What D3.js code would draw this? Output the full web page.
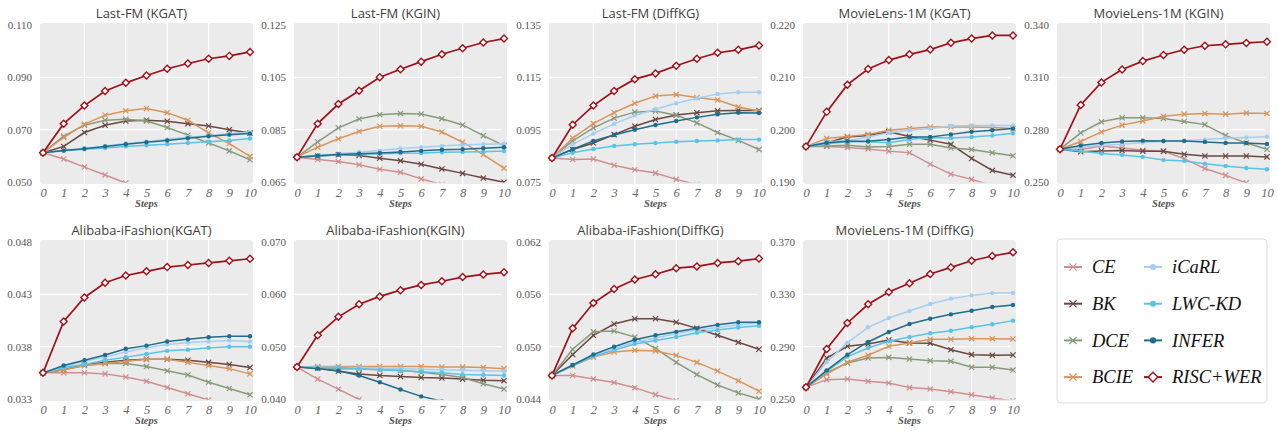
<!DOCTYPE html>
<html>
<head>
<meta charset="utf-8">
<script src="https://cdn.jsdelivr.net/npm/d3@7"></script>
<style>
  body { margin: 0; background: #fff; }
  svg { display: block; }
  .serif { font-family: "Liberation Serif", "DejaVu Serif", serif; }
</style>
</head>
<body>
<svg width="1278" height="431"></svg>
<script>
// steps on the x axis
var steps = [0, 1, 2, 3, 4, 5, 6, 7, 8, 9, 10];
var methods = ["CE", "BK", "DCE", "BCIE", "iCaRL", "LWC-KD", "INFER", "RISC+WER"];

var titles = ["Last-FM (KGAT)", "Last-FM (KGIN)", "Last-FM (DiffKG)", "MovieLens-1M (KGAT)", "MovieLens-1M (KGIN)",
              "Alibaba-iFashion(KGAT)", "Alibaba-iFashion(KGIN)", "Alibaba-iFashion(DiffKG)", "MovieLens-1M (DiffKG)"];

var yTicks = [
  [0.050, 0.070, 0.090, 0.110],
  [0.065, 0.085, 0.105, 0.125],
  [0.075, 0.095, 0.115, 0.135],
  [0.190, 0.200, 0.210, 0.220],
  [0.250, 0.280, 0.310, 0.340],
  [0.033, 0.038, 0.043, 0.048],
  [0.040, 0.050, 0.060, 0.070],
  [0.044, 0.050, 0.056, 0.062],
  [0.250, 0.290, 0.330, 0.370]
];

// one row per method, same order as `methods`
var lastfmKGAT = [
  [0.0612, 0.0588, 0.0557, 0.0527, 0.0496, 0.0466, 0.0437, 0.0410, 0.0385, 0.0362, 0.0340],
  [0.0612, 0.0636, 0.0689, 0.0717, 0.0733, 0.0736, 0.0732, 0.0723, 0.0714, 0.0700, 0.0687],
  [0.0612, 0.0675, 0.0717, 0.0736, 0.0740, 0.0733, 0.0708, 0.0679, 0.0649, 0.0619, 0.0585],
  [0.0612, 0.0670, 0.0721, 0.0755, 0.0772, 0.0781, 0.0765, 0.0736, 0.0688, 0.0647, 0.0598],
  [0.0612, 0.0621, 0.0629, 0.0638, 0.0647, 0.0654, 0.0663, 0.0671, 0.0677, 0.0685, 0.0690],
  [0.0612, 0.0619, 0.0625, 0.0630, 0.0636, 0.0640, 0.0644, 0.0649, 0.0654, 0.0659, 0.0666],
  [0.0612, 0.0620, 0.0627, 0.0636, 0.0644, 0.0652, 0.0659, 0.0667, 0.0675, 0.0681, 0.0685],
  [0.0612, 0.0723, 0.0792, 0.0848, 0.0879, 0.0907, 0.0933, 0.0953, 0.0971, 0.0982, 0.0997]
];
var lastfmKGIN = [
  [0.0745, 0.0736, 0.0728, 0.0716, 0.0699, 0.0687, 0.0662, 0.0640, 0.0618, 0.0596, 0.0575],
  [0.0745, 0.0749, 0.0754, 0.0751, 0.0741, 0.0731, 0.0718, 0.0700, 0.0683, 0.0665, 0.0649],
  [0.0745, 0.0803, 0.0857, 0.0891, 0.0907, 0.0912, 0.0910, 0.0892, 0.0868, 0.0827, 0.0789],
  [0.0745, 0.0783, 0.0815, 0.0843, 0.0863, 0.0865, 0.0863, 0.0841, 0.0802, 0.0755, 0.0703],
  [0.0745, 0.0751, 0.0758, 0.0764, 0.0770, 0.0778, 0.0783, 0.0788, 0.0792, 0.0794, 0.0796],
  [0.0745, 0.0749, 0.0753, 0.0755, 0.0758, 0.0760, 0.0761, 0.0764, 0.0765, 0.0766, 0.0768],
  [0.0745, 0.0750, 0.0755, 0.0758, 0.0761, 0.0765, 0.0769, 0.0773, 0.0775, 0.0779, 0.0783],
  [0.0745, 0.0873, 0.0948, 0.0999, 0.1050, 0.1081, 0.1110, 0.1138, 0.1161, 0.1183, 0.1198]
];
var lastfmDiffKG = [
  [0.0842, 0.0836, 0.0838, 0.0814, 0.0797, 0.0784, 0.0760, 0.0740, 0.0722, 0.0705, 0.0690],
  [0.0842, 0.0874, 0.0899, 0.0931, 0.0963, 0.0989, 0.1006, 0.1015, 0.1022, 0.1023, 0.1023],
  [0.0842, 0.0907, 0.0957, 0.0994, 0.1017, 0.1021, 0.1005, 0.0976, 0.0939, 0.0909, 0.0874],
  [0.0842, 0.0918, 0.0973, 0.1015, 0.1051, 0.1079, 0.1084, 0.1073, 0.1063, 0.1037, 0.1021],
  [0.0842, 0.0894, 0.0935, 0.0972, 0.1004, 0.1028, 0.1051, 0.1070, 0.1086, 0.1093, 0.1093],
  [0.0842, 0.0862, 0.0876, 0.0888, 0.0894, 0.0899, 0.0904, 0.0907, 0.0909, 0.0912, 0.0912],
  [0.0842, 0.0875, 0.0907, 0.0930, 0.0950, 0.0968, 0.0983, 0.0997, 0.1009, 0.1015, 0.1014],
  [0.0842, 0.0969, 0.1042, 0.1098, 0.1143, 0.1165, 0.1194, 0.1221, 0.1244, 0.1255, 0.1272]
];
var movielensKGAT = [
  [0.1968, 0.1968, 0.1966, 0.1963, 0.1959, 0.1956, 0.1934, 0.1915, 0.1905, 0.1893, 0.1880],
  [0.1968, 0.1975, 0.1986, 0.1989, 0.1996, 0.1987, 0.1980, 0.1972, 0.1945, 0.1922, 0.1913],
  [0.1968, 0.1969, 0.1970, 0.1967, 0.1968, 0.1972, 0.1972, 0.1965, 0.1962, 0.1956, 0.1950],
  [0.1968, 0.1983, 0.1987, 0.1991, 0.1999, 0.2002, 0.2005, 0.2005, 0.2005, 0.2004, 0.2002],
  [0.1968, 0.1977, 0.1979, 0.1986, 0.1994, 0.1999, 0.2002, 0.2007, 0.2008, 0.2008, 0.2008],
  [0.1968, 0.1973, 0.1977, 0.1977, 0.1975, 0.1981, 0.1985, 0.1984, 0.1986, 0.1989, 0.1993],
  [0.1968, 0.1975, 0.1978, 0.1978, 0.1981, 0.1986, 0.1986, 0.1991, 0.1996, 0.1999, 0.2002],
  [0.1968, 0.2034, 0.2086, 0.2116, 0.2133, 0.2144, 0.2153, 0.2166, 0.2174, 0.2180, 0.2180]
];
var movielensKGIN = [
  [0.2688, 0.2686, 0.2707, 0.2695, 0.2682, 0.2676, 0.2634, 0.2577, 0.2538, 0.2495, 0.2460],
  [0.2688, 0.2673, 0.2678, 0.2680, 0.2676, 0.2676, 0.2659, 0.2649, 0.2649, 0.2649, 0.2644],
  [0.2688, 0.2782, 0.2845, 0.2868, 0.2868, 0.2864, 0.2847, 0.2829, 0.2766, 0.2724, 0.2688],
  [0.2688, 0.2732, 0.2787, 0.2826, 0.2850, 0.2877, 0.2889, 0.2893, 0.2889, 0.2896, 0.2893],
  [0.2688, 0.2701, 0.2711, 0.2716, 0.2726, 0.2734, 0.2737, 0.2743, 0.2751, 0.2755, 0.2760],
  [0.2688, 0.2678, 0.2663, 0.2655, 0.2644, 0.2626, 0.2621, 0.2605, 0.2592, 0.2580, 0.2573],
  [0.2688, 0.2709, 0.2724, 0.2732, 0.2737, 0.2735, 0.2735, 0.2730, 0.2724, 0.2724, 0.2718],
  [0.2688, 0.2942, 0.3071, 0.3145, 0.3193, 0.3228, 0.3258, 0.3281, 0.3289, 0.3297, 0.3304]
];
var alibabaKGAT = [
  [0.0355, 0.0355, 0.0355, 0.0354, 0.0351, 0.0347, 0.0341, 0.0335, 0.0329, 0.0323, 0.0317],
  [0.0355, 0.0358, 0.0363, 0.0365, 0.0367, 0.0368, 0.0368, 0.0367, 0.0365, 0.0363, 0.0360],
  [0.0355, 0.0358, 0.0362, 0.0364, 0.0364, 0.0361, 0.0357, 0.0353, 0.0346, 0.0340, 0.0334],
  [0.0355, 0.0358, 0.0362, 0.0364, 0.0366, 0.0368, 0.0368, 0.0365, 0.0362, 0.0359, 0.0354],
  [0.0355, 0.0361, 0.0366, 0.0370, 0.0375, 0.0379, 0.0382, 0.0384, 0.0385, 0.0386, 0.0385],
  [0.0355, 0.0360, 0.0363, 0.0367, 0.0370, 0.0373, 0.0376, 0.0377, 0.0379, 0.0380, 0.0380],
  [0.0355, 0.0362, 0.0367, 0.0372, 0.0378, 0.0381, 0.0385, 0.0387, 0.0389, 0.0390, 0.0390],
  [0.0355, 0.0404, 0.0427, 0.0441, 0.0448, 0.0452, 0.0456, 0.0458, 0.0460, 0.0462, 0.0464]
];
var alibabaKGIN = [
  [0.0461, 0.0438, 0.0419, 0.0399, 0.0380, 0.0362, 0.0345, 0.0330, 0.0316, 0.0303, 0.0291],
  [0.0461, 0.0459, 0.0453, 0.0448, 0.0445, 0.0443, 0.0441, 0.0440, 0.0438, 0.0436, 0.0435],
  [0.0461, 0.0460, 0.0458, 0.0458, 0.0456, 0.0455, 0.0451, 0.0447, 0.0441, 0.0429, 0.0419],
  [0.0461, 0.0462, 0.0462, 0.0462, 0.0462, 0.0462, 0.0462, 0.0461, 0.0461, 0.0460, 0.0458],
  [0.0461, 0.0461, 0.0460, 0.0460, 0.0459, 0.0458, 0.0457, 0.0456, 0.0455, 0.0454, 0.0453],
  [0.0461, 0.0460, 0.0460, 0.0458, 0.0456, 0.0454, 0.0452, 0.0450, 0.0447, 0.0446, 0.0445],
  [0.0461, 0.0458, 0.0454, 0.0445, 0.0432, 0.0418, 0.0405, 0.0396, 0.0388, 0.0380, 0.0373],
  [0.0461, 0.0522, 0.0557, 0.0581, 0.0596, 0.0608, 0.0618, 0.0625, 0.0633, 0.0638, 0.0642]
];
var alibabaDiffKG = [
  [0.0467, 0.0467, 0.0463, 0.0459, 0.0453, 0.0445, 0.0438, 0.0432, 0.0426, 0.0421, 0.0416],
  [0.0467, 0.0491, 0.0513, 0.0526, 0.0532, 0.0532, 0.0528, 0.0521, 0.0513, 0.0505, 0.0497],
  [0.0467, 0.0497, 0.0517, 0.0518, 0.0511, 0.0498, 0.0482, 0.0468, 0.0456, 0.0447, 0.0440],
  [0.0467, 0.0478, 0.0488, 0.0494, 0.0496, 0.0495, 0.0490, 0.0482, 0.0472, 0.0461, 0.0449],
  [0.0467, 0.0479, 0.0490, 0.0498, 0.0505, 0.0510, 0.0515, 0.0519, 0.0522, 0.0525, 0.0527],
  [0.0467, 0.0478, 0.0489, 0.0496, 0.0503, 0.0507, 0.0511, 0.0516, 0.0519, 0.0522, 0.0524],
  [0.0467, 0.0479, 0.0491, 0.0500, 0.0508, 0.0513, 0.0517, 0.0521, 0.0525, 0.0528, 0.0528],
  [0.0467, 0.0521, 0.0550, 0.0566, 0.0577, 0.0583, 0.0590, 0.0592, 0.0596, 0.0598, 0.0601]
];
var movielensDiffKG = [
  [0.2589, 0.2648, 0.2653, 0.2635, 0.2622, 0.2587, 0.2576, 0.2556, 0.2533, 0.2507, 0.2485],
  [0.2589, 0.2813, 0.2903, 0.2921, 0.2951, 0.2928, 0.2926, 0.2877, 0.2839, 0.2834, 0.2836],
  [0.2589, 0.2701, 0.2775, 0.2813, 0.2818, 0.2806, 0.2793, 0.2788, 0.2742, 0.2742, 0.2721],
  [0.2589, 0.2691, 0.2781, 0.2834, 0.2903, 0.2928, 0.2956, 0.2956, 0.2961, 0.2961, 0.2959],
  [0.2589, 0.2783, 0.2931, 0.3048, 0.3119, 0.3173, 0.3226, 0.3267, 0.3292, 0.3310, 0.3310],
  [0.2589, 0.2712, 0.2824, 0.2890, 0.2941, 0.2974, 0.3002, 0.3022, 0.3048, 0.3071, 0.3099],
  [0.2589, 0.2719, 0.2839, 0.2936, 0.3012, 0.3073, 0.3114, 0.3147, 0.3175, 0.3203, 0.3218],
  [0.2589, 0.2882, 0.3081, 0.3224, 0.3318, 0.3384, 0.3456, 0.3506, 0.3557, 0.3593, 0.3621]
];

var panels = [lastfmKGAT, lastfmKGIN, lastfmDiffKG, movielensKGAT, movielensKGIN,
              alibabaKGAT, alibabaKGIN, alibabaDiffKG, movielensDiffKG];

// styles
var colors = ["#cf8f8f", "#6b4842", "#899a7c", "#d8955c", "#a5cff2", "#5ac4e6", "#1f6d8a", "#9e111b"];
var shapes = ["x", "x", "x", "x", "dot", "dot", "dot", "diamond"];

var svg = d3.select("svg");
var plotW = 207, plotH = 157;
var colLeft = [43, 297, 552, 806, 1060];
var rowTop = [25, 242];

function drawMarker(g, shape, color, s) {
  if (shape === "x") {
    g.append("path")
      .attr("d", "M" + -s + "," + -s + "L" + s + "," + s + "M" + -s + "," + s + "L" + s + "," + -s)
      .attr("stroke", color).attr("stroke-width", 1.2).attr("fill", "none");
  } else if (shape === "dot") {
    g.append("circle").attr("r", s * 0.85).attr("fill", color);
  } else {
    var d = s * 1.35;
    g.append("path")
      .attr("d", "M0," + -d + "L" + d + ",0L0," + d + "L" + -d + ",0Z")
      .attr("fill", "#fff").attr("stroke", color).attr("stroke-width", 1.4);
  }
}

panels.forEach(function(series, i) {
  var c = i % 5, r = Math.floor(i / 5);
  var left = colLeft[c], top = rowTop[r];
  var ticks = yTicks[i];

  var x = d3.scaleLinear().domain([0, 10]).range([0, plotW]);
  var y = d3.scaleLinear().domain([ticks[0], ticks[3]]).range([plotH, 0]);

  var g = svg.append("g").attr("transform", "translate(" + left + "," + top + ")");

  g.append("rect")
    .attr("x", -3).attr("y", -2)
    .attr("width", plotW + 6).attr("height", plotH + 4)
    .attr("rx", 3).attr("fill", "#ebebeb");

  // grid
  g.selectAll(".vg").data([2, 4, 6, 8]).enter().append("line")
    .attr("x1", x).attr("x2", x).attr("y1", -2).attr("y2", plotH + 2)
    .attr("stroke", "#fff").attr("stroke-width", 1.2);
  g.selectAll(".hg").data([ticks[1], ticks[2]]).enter().append("line")
    .attr("x1", -3).attr("x2", plotW - 2).attr("y1", y).attr("y2", y)
    .attr("stroke", "#fff").attr("stroke-width", 1.2);

  // axes
  var ya = g.append("g").call(d3.axisLeft(y).tickValues(ticks).tickSize(0).tickPadding(11).tickFormat(d3.format(".3f")));
  ya.select(".domain").remove();
  ya.attr("font-family", null).attr("font-size", null);
  ya.selectAll("text").attr("class", "serif").style("font-size", "11px").attr("fill", "#555");

  var xa = g.append("g").attr("transform", "translate(0," + plotH + ")")
    .call(d3.axisBottom(x).tickValues(steps).tickSize(0).tickPadding(6).tickFormat(d3.format("d")));
  xa.select(".domain").remove();
  xa.attr("font-family", null).attr("font-size", null);
  xa.selectAll("text").attr("class", "serif").style("font-size", "12.5px")
    .style("font-style", "italic").attr("fill", "#666");

  g.append("text")
    .attr("class", "serif")
    .attr("x", plotW / 2).attr("y", plotH + 25)
    .attr("text-anchor", "middle")
    .style("font-size", "10.5px")
    .style("font-style", "italic").style("font-weight", "bold").attr("fill", "#555")
    .text("Steps");

  g.append("text")
    .attr("x", plotW / 2 - 5).attr("y", -7)
    .attr("text-anchor", "middle")
    .style("font-family", "'Open Sans', sans-serif").style("font-size", "13px")
    .attr("fill", "#404040")
    .text(titles[i]);

  // clip lines to the plot area
  var clipId = "clip" + i;
  g.append("clipPath").attr("id", clipId).append("rect")
    .attr("x", -6).attr("y", -6).attr("width", plotW + 12).attr("height", plotH + 6.5);

  var line = d3.line().x(function(d, j) { return x(steps[j]); }).y(function(d) { return y(d); });
  var lines = g.append("g").attr("clip-path", "url(#" + clipId + ")");

  series.forEach(function(vals, k) {
    lines.append("path")
      .datum(vals)
      .attr("d", line)
      .attr("fill", "none")
      .attr("stroke", colors[k])
      .attr("stroke-width", k === 7 ? 1.7 : 1.5);
    vals.forEach(function(v, j) {
      var m = lines.append("g").attr("transform", "translate(" + x(steps[j]) + "," + y(v) + ")");
      drawMarker(m, shapes[k], colors[k], 2.6);
    });
  });
});

// legend
var lg = svg.append("g").attr("transform", "translate(1057,239)");
lg.append("rect").attr("width", 210).attr("height", 164).attr("rx", 4)
  .attr("fill", "#fff").attr("stroke", "#dedede").attr("stroke-width", 1);

methods.forEach(function(name, k) {
  var col = Math.floor(k / 4), row = k % 4;
  var e = lg.append("g").attr("transform", "translate(" + (16 + col * 80) + "," + (28 + row * 36.7) + ")");
  e.append("line").attr("x1", -9).attr("x2", 9).attr("stroke", colors[k]).attr("stroke-width", 2);
  drawMarker(e, shapes[k], colors[k], 3.6);
  e.append("text")
    .attr("class", "serif")
    .attr("x", 19).attr("dy", "0.33em")
    .style("font-size", "18.5px")
    .style("font-style", "italic").attr("fill", "#111")
    .text(name);
});
</script>
</body>
</html>
